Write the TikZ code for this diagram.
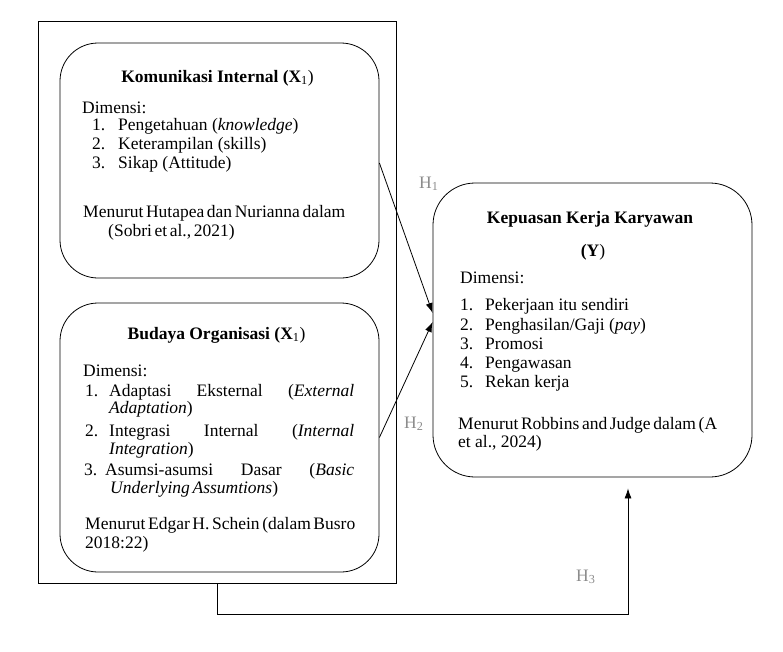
\documentclass[tikz,border=0pt]{standalone}
\usepackage{fontspec}
\setmainfont{Liberation Serif}
\usetikzlibrary{arrows.meta,calc}
\definecolor{hgray}{HTML}{8C8C8C}
\newcommand{\fitline}[2]{\hbox to #1{\spaceskip=2.6pt plus 1fil\relax #2\hss}}
\begin{document}
\begin{tikzpicture}[x=1pt,y=-1pt,
  font=\fontsize{17.5}{19.5}\selectfont,
  bx/.style={draw, line width=0.8pt, rounded corners=#1, inner sep=0pt},
  frame/.style={draw, line width=0.8pt, inner sep=0pt},
  txt/.style={anchor=base west, inner sep=0pt},
  ctr/.style={anchor=base, inner sep=0pt},
  hl/.style={anchor=base west, inner sep=0pt, text=hgray},
  arr/.style={line width=0.8pt, -{Latex[length=10pt,width=7pt]}}]
\useasboundingbox (0,0) rectangle (783,651);
% frames
\node[frame, minimum width=358pt, minimum height=562pt] (outer) at (217,302) {};
\node[bx=38pt, minimum width=319pt, minimum height=235pt] (kom) at (219.5,160.5) {};
\node[bx=38pt, minimum width=319pt, minimum height=269pt] (bud) at (219.5,437.5) {};
\node[bx=42pt, minimum width=319pt, minimum height=294pt] (kep) at (592.5,330) {};
% top box text
\node[ctr] (t1) at (217.5,82) {\textbf{Komunikasi Internal (X}\textsubscript{1})};
\node[txt] (d1) at (82,113) {Dimensi:};
\node[txt] (n11) at (92,130) {1.};
\node[txt] (i11) at (118,130) {Pengetahuan (\textit{knowledge})};
\node[txt] (n12) at (92,149) {2.};
\node[txt] (i12) at (118,149) {Keterampilan (skills)};
\node[txt] (n13) at (92,168) {3.};
\node[txt] (i13) at (118,168) {Sikap (Attitude)};
\node[txt] (m1) at (83,217) {\fitline{255pt}{Menurut Hutapea dan Nurianna dalam}};
\node[txt] (m1b) at (108,236) {\fitline{126pt}{(Sobri et al., 2021)}};
% bottom box text
\node[ctr] (t2) at (216.5,339) {\textbf{Budaya Organisasi (X}\textsubscript{1})};
\node[txt] (d2) at (83,376) {Dimensi:};
\node[txt] (n21) at (85,396) {1.};
\node[txt] (i21) at (109,396) {\makebox[245pt][l]{Adaptasi\hfill Eksternal\hfill (\textit{External}}};
\node[txt] (i21b) at (109,413) {\textit{Adaptation})};
\node[txt] (n22) at (85,436) {2.};
\node[txt] (i22) at (109,436) {\makebox[245pt][l]{Integrasi\hfill Internal\hfill (\textit{Internal}}};
\node[txt] (i22b) at (109,454) {\textit{Integration})};
\node[txt] (n23) at (84,475) {3.};
\node[txt] (i23) at (105,475) {\makebox[249pt][l]{Asumsi-asumsi\hfill Dasar\hfill (\textit{Basic}}};
\node[txt] (i23b) at (110,493) {\fitline{168pt}{\textit{Underlying Assumtions})}};
\node[txt] (m2) at (85,529) {\fitline{262pt}{Menurut Edgar H. Schein (dalam Busro}};
\node[txt] (m2b) at (85,548) {2018:22)};
% right box text
\node[ctr] (t3) at (590,223) {\textbf{Kepuasan Kerja Karyawan}};
\node[ctr] (t3b) at (593,256) {\textbf{(Y}{)}};
\node[txt] (d3) at (460,283) {Dimensi:};
\node[txt] (n31) at (460,310) {1.};
\node[txt] (i31) at (485,310) {Pekerjaan itu sendiri};
\node[txt] (n32) at (460,330) {2.};
\node[txt] (i32) at (485,330) {Penghasilan/Gaji (\textit{pay})};
\node[txt] (n33) at (460,349) {3.};
\node[txt] (i33) at (485,349) {Promosi};
\node[txt] (n34) at (460,368) {4.};
\node[txt] (i34) at (485,368) {Pengawasan};
\node[txt] (n35) at (460,387) {5.};
\node[txt] (i35) at (485,387) {Rekan kerja};
\node[txt] (m3) at (458,429) {\fitline{255pt}{Menurut Robbins and Judge dalam (A}};
\node[txt] (m3b) at (458,447) {et al., 2024)};
% hypothesis labels
\node[hl] (h1) at (419,188) {H\textsubscript{1}};
\node[hl] (h2) at (404,428) {H\textsubscript{2}};
\node[hl] (h3) at (576,581) {H\textsubscript{3}};
% connectors
\coordinate (a1s) at ($(kom.east)+(0,2.5)$);
\coordinate (a1e) at ($(kep.west)+(0,-17)$);
\coordinate (a2e) at ($(kep.west)+(0,-8)$);
\coordinate (a3e) at ($(kep.south)+(35.5,11)$);
\draw[arr] (a1s) -- (a1e);
\draw[arr] (bud.east) -- (a2e);
\draw[arr] (outer.south) -- ++(0,31) -| (a3e);
\end{tikzpicture}
\end{document}
